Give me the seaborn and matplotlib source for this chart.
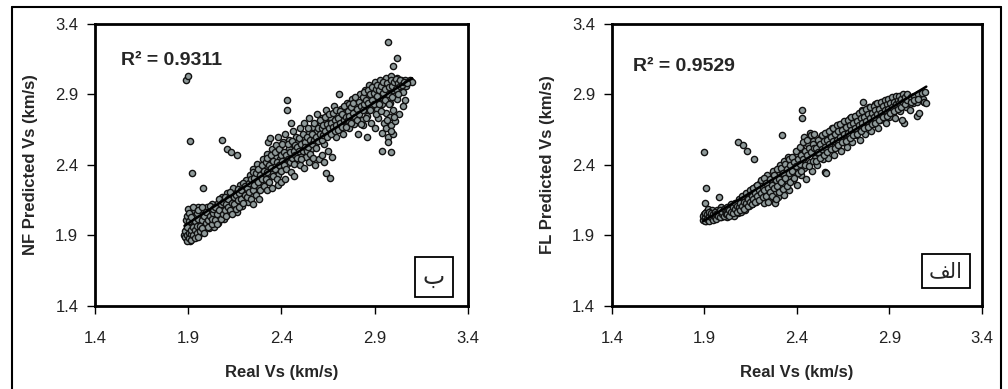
import numpy as np
import pandas as pd
import seaborn as sns
import matplotlib.pyplot as plt
from matplotlib.lines import Line2D

# NF model (panel "ب"): real vs predicted shear-wave velocity
nf_real = [
    1.89, 1.89, 1.90, 1.90, 1.91, 1.91, 1.90, 1.92, 1.91, 1.90, 1.92, 1.93, 1.93, 1.94, 1.93, 1.95, 1.94, 1.95, 1.96, 1.96,
    1.88, 1.89, 1.90, 1.91, 1.92, 1.89, 1.90,
    1.97, 1.98, 1.98, 1.99, 2.00, 2.00, 2.01, 2.02, 2.03, 2.03, 2.04, 2.05, 2.05, 2.06, 2.06,
    2.07, 2.08, 2.08, 2.09, 2.10, 2.10, 2.11, 2.12, 2.12, 2.13, 2.14, 2.14, 2.15, 2.16, 2.16, 2.17, 2.18, 2.18, 2.19, 2.20, 2.20,
    2.21, 2.22, 2.22, 2.23, 2.24, 2.24, 2.25, 2.26, 2.26, 2.27, 2.28, 2.28, 2.29, 2.30, 2.30, 2.31, 2.32, 2.32, 2.33, 2.33, 2.34, 2.34, 2.35, 2.35,
    2.36, 2.37, 2.37, 2.38, 2.38, 2.39, 2.40, 2.40, 2.41, 2.42, 2.42, 2.43, 2.44, 2.44, 2.45, 2.46, 2.46, 2.47, 2.48, 2.48, 2.49, 2.50, 2.50,
    2.51, 2.52, 2.52, 2.53, 2.54, 2.55, 2.55, 2.56, 2.57, 2.57, 2.58, 2.59, 2.59, 2.60, 2.61, 2.61, 2.62, 2.63, 2.63, 2.64, 2.65, 2.65,
    2.66, 2.67, 2.68, 2.68, 2.69, 2.70, 2.70, 2.71, 2.72, 2.72, 2.73, 2.74, 2.75, 2.75, 2.76, 2.77, 2.77, 2.78, 2.79, 2.80, 2.80,
    2.81, 2.82, 2.82, 2.83, 2.84, 2.84, 2.85, 2.85, 2.86, 2.86, 2.87, 2.87, 2.88, 2.88, 2.89, 2.90, 2.90, 2.90,
    2.91, 2.92, 2.92, 2.93, 2.93, 2.94, 2.94, 2.95, 2.95, 2.96, 2.96, 2.96, 2.97, 2.97, 2.98, 2.98, 2.98, 2.99, 2.99, 3.00, 3.00, 3.00,
    3.01, 3.01, 3.02, 3.02, 3.03, 3.03, 3.04, 3.05, 3.05,
    3.06, 3.07, 3.08, 3.09, 3.10,
    1.89, 1.90, 1.91, 1.92, 1.98, 2.08, 2.11, 2.13, 2.16, 2.43, 2.43, 2.45, 2.64, 2.66, 2.71,
    2.97, 3.02, 3.00, 2.94, 2.99, 2.97, 3.06, 3.05,
]
nf_pred = [
    1.88, 1.91, 1.93, 1.87, 1.90, 1.95, 1.98, 2.02, 2.07, 2.09, 1.89, 1.92, 1.97, 2.04, 2.08, 2.10, 1.90, 1.94, 1.99, 1.91,
    1.90, 1.94, 1.89, 1.86, 1.92, 2.01, 1.96,
    2.05, 1.93, 2.09, 1.97, 2.02, 2.10, 1.95, 2.06, 2.00, 2.12, 1.96, 2.08, 2.03, 2.13, 1.99,
    2.05, 2.11, 2.17, 2.02, 2.09, 2.14, 2.20, 2.06, 2.12, 2.18, 2.10, 2.24, 2.15, 2.21, 2.07, 2.13, 2.26, 2.19, 2.11, 2.23, 2.16,
    2.29, 2.20, 2.14, 2.33, 2.25, 2.18, 2.37, 2.28, 2.22, 2.41, 2.31, 2.24, 2.36, 2.44, 2.27, 2.33, 2.48, 2.39, 2.56, 2.30, 2.43, 2.59, 2.35, 2.51,
    2.40, 2.46, 2.54, 2.33, 2.60, 2.44, 2.50, 2.38, 2.56, 2.45, 2.62, 2.41, 2.52, 2.58, 2.47, 2.55, 2.64, 2.43, 2.50, 2.60, 2.56, 2.48, 2.66,
    2.53, 2.59, 2.70, 2.46, 2.56, 2.63, 2.73, 2.51, 2.60, 2.67, 2.55, 2.64, 2.76, 2.58, 2.69, 2.62, 2.73, 2.55, 2.66, 2.79, 2.61, 2.70,
    2.74, 2.64, 2.82, 2.69, 2.60, 2.76, 2.70, 2.66, 2.80, 2.73, 2.62, 2.77, 2.70, 2.84, 2.66, 2.79, 2.73, 2.87, 2.69, 2.82, 2.76,
    2.62, 2.78, 2.90, 2.72, 2.85, 2.68, 2.93, 2.80, 2.75, 2.60, 2.88, 2.97, 2.82, 2.70, 2.92, 2.86, 2.99, 2.66,
    2.80, 2.94, 2.73, 3.00, 2.88, 2.63, 2.83, 2.96, 2.70, 3.02, 2.77, 2.66, 2.90, 2.60, 2.99, 2.74, 2.84, 2.68, 3.03, 2.93, 2.79, 2.62,
    2.97, 2.71, 3.02, 2.87, 2.95, 2.76, 3.00, 2.92, 2.98,
    3.00, 2.96, 2.99, 3.00, 2.99,
    3.00, 3.03, 2.57, 2.34, 2.24, 2.58, 2.51, 2.49, 2.47, 2.86, 2.79, 2.70, 2.34, 2.31, 2.90,
    3.27, 3.16, 3.10, 2.50, 2.49, 2.56, 2.86, 2.82,
]
# extra points filling the dense core of the NF cloud
nf_core = [
    (1.885, 1.89), (1.885, 1.93), (1.895, 1.86), (1.895, 1.90), (1.895, 1.96), (1.895, 2.04),
    (1.905, 1.88), (1.905, 1.92), (1.905, 2.00), (1.905, 2.06), (1.915, 1.87), (1.915, 1.91),
    (1.915, 1.94), (1.915, 2.03), (1.925, 1.90), (1.925, 1.96), (1.925, 2.10), (1.935, 1.88),
    (1.935, 1.94), (1.935, 2.00), (1.945, 1.92), (1.945, 1.97), (1.945, 2.06), (1.955, 1.89),
    (1.955, 2.02), (1.955, 2.08), (1.965, 1.93), (1.965, 1.97), (1.975, 1.95), (1.975, 2.01),
    (1.975, 2.10), (1.985, 1.92), (1.985, 2.04), (1.995, 1.99), (1.995, 2.07), (2.005, 1.96),
    (2.005, 2.01), (2.015, 2.04), (2.015, 2.11), (2.025, 1.98), (2.025, 2.02), (2.035, 2.06),
    (2.035, 2.09), (2.045, 2.01), (2.045, 2.10), (2.055, 1.98), (2.055, 2.05), (2.065, 2.08),
    (2.065, 2.16), (2.075, 2.02), (2.075, 2.12), (2.085, 2.05), (2.085, 2.14), (2.095, 2.08),
    (2.095, 2.17), (2.105, 2.04), (2.105, 2.12), (2.115, 2.10), (2.115, 2.16), (2.125, 2.08),
    (2.125, 2.21), (2.135, 2.13), (2.135, 2.05), (2.145, 2.17), (2.145, 2.12), (2.155, 2.09),
    (2.155, 2.19), (2.165, 2.15), (2.165, 2.23), (2.175, 2.10), (2.175, 2.20), (2.185, 2.16),
    (2.185, 2.22), (2.195, 2.13), (2.195, 2.27), (2.205, 2.19), (2.205, 2.25), (2.215, 2.24),
    (2.215, 2.17), (2.225, 2.27), (2.225, 2.21), (2.235, 2.30), (2.235, 2.16), (2.245, 2.22),
    (2.245, 2.35), (2.255, 2.26), (2.255, 2.31), (2.265, 2.19), (2.265, 2.34), (2.275, 2.28),
    (2.275, 2.37), (2.285, 2.33), (2.285, 2.22), (2.295, 2.30), (2.295, 2.40), (2.305, 2.25),
    (2.305, 2.36), (2.315, 2.30), (2.315, 2.42), (2.325, 2.35), (2.325, 2.45), (2.335, 2.28),
    (2.335, 2.40), (2.345, 2.38), (2.345, 2.47), (2.355, 2.32), (2.355, 2.43), (2.365, 2.37),
    (2.365, 2.49), (2.375, 2.42), (2.375, 2.30), (2.385, 2.40), (2.385, 2.51), (2.395, 2.36),
    (2.395, 2.47), (2.405, 2.43), (2.405, 2.55), (2.415, 2.40), (2.415, 2.49), (2.425, 2.47),
    (2.425, 2.37), (2.435, 2.44), (2.435, 2.55), (2.445, 2.49), (2.445, 2.42), (2.455, 2.45),
    (2.455, 2.57), (2.465, 2.50), (2.465, 2.41), (2.475, 2.47), (2.475, 2.54), (2.485, 2.53),
    (2.485, 2.45), (2.495, 2.50), (2.495, 2.59), (2.505, 2.55), (2.505, 2.44), (2.515, 2.50),
    (2.515, 2.62), (2.525, 2.56), (2.525, 2.53), (2.535, 2.60), (2.535, 2.50), (2.545, 2.53),
    (2.545, 2.66), (2.555, 2.58), (2.555, 2.48), (2.565, 2.62), (2.565, 2.55), (2.575, 2.58),
    (2.575, 2.70), (2.585, 2.60), (2.585, 2.52), (2.595, 2.66), (2.595, 2.57), (2.605, 2.62),
    (2.605, 2.72), (2.615, 2.58), (2.615, 2.66), (2.625, 2.68), (2.625, 2.61), (2.635, 2.64),
    (2.635, 2.74), (2.645, 2.60), (2.645, 2.69), (2.655, 2.66), (2.655, 2.76), (2.665, 2.70),
    (2.665, 2.62), (2.675, 2.67), (2.675, 2.77), (2.685, 2.72), (2.685, 2.64), (2.695, 2.68),
    (2.695, 2.79), (2.705, 2.73), (2.705, 2.65), (2.715, 2.70), (2.715, 2.78), (2.725, 2.76),
    (2.725, 2.67), (2.735, 2.72), (2.735, 2.82), (2.745, 2.74), (2.745, 2.67), (2.755, 2.78),
    (2.755, 2.72), (2.765, 2.75), (2.765, 2.83), (2.775, 2.70), (2.775, 2.81), (2.785, 2.77),
    (2.785, 2.84), (2.795, 2.74), (2.795, 2.88), (2.805, 2.80), (2.805, 2.72), (2.815, 2.85),
    (2.815, 2.76), (2.825, 2.82), (2.825, 2.69), (2.835, 2.88), (2.835, 2.79), (2.845, 2.83),
    (2.845, 2.92), (2.855, 2.86), (2.855, 2.73), (2.865, 2.84), (2.865, 2.93), (2.875, 2.90),
    (2.875, 2.79), (2.885, 2.86), (2.885, 2.95), (2.895, 2.91), (2.895, 2.83), (2.905, 2.94),
    (2.905, 2.76), (2.915, 2.89), (2.915, 2.97), (2.925, 2.93), (2.925, 2.83), (2.935, 2.96),
    (2.935, 2.78), (2.945, 2.91), (2.945, 2.99), (2.955, 2.94), (2.955, 2.86), (2.965, 2.98),
    (2.965, 2.72), (2.975, 2.95), (2.975, 2.83), (2.985, 3.00), (2.985, 2.64), (2.995, 2.96),
    (2.995, 2.88), (3.005, 2.99), (3.005, 2.74), (3.015, 2.94), (3.015, 3.01), (3.025, 2.98),
    (3.025, 2.90), (3.035, 3.00), (3.035, 2.96), (3.045, 2.97), (3.055, 2.99), (3.075, 2.98),
]
# lower edge of the NF band, which is wider than the core
nf_spread = [
    (2.25, 2.12), (2.28, 2.16), (2.32, 2.22), (2.35, 2.24), (2.38, 2.26), (2.40, 2.28),
    (2.42, 2.30), (2.45, 2.35), (2.47, 2.32), (2.50, 2.40), (2.52, 2.38), (2.55, 2.42),
    (2.57, 2.45), (2.58, 2.40), (2.60, 2.44), (2.62, 2.47), (2.63, 2.42), (2.65, 2.50),
    (2.67, 2.46),
]

# FL model (panel "الف")
fl_real = [
    1.90, 1.90, 1.91, 1.91, 1.92, 1.92, 1.93, 1.93, 1.94, 1.94, 1.95, 1.95, 1.96, 1.97, 1.97, 1.98, 1.99, 1.99, 2.00, 2.00,
    2.01, 2.02, 2.02, 2.03, 2.04, 2.04, 2.05, 2.06, 2.06, 2.07, 2.08, 2.08, 2.09, 2.10, 2.10,
    2.11, 2.12, 2.12, 2.13, 2.14, 2.14, 2.15, 2.16, 2.16, 2.17, 2.18, 2.18, 2.19, 2.20, 2.20,
    2.21, 2.22, 2.22, 2.23, 2.24, 2.24, 2.25, 2.26, 2.26, 2.27, 2.28, 2.28, 2.29, 2.30, 2.30,
    2.31, 2.31, 2.32, 2.33, 2.33, 2.34, 2.35, 2.35, 2.36, 2.36, 2.37, 2.38, 2.38, 2.39, 2.40, 2.40,
    2.41, 2.42, 2.42, 2.43, 2.44, 2.44, 2.45, 2.45, 2.46, 2.47, 2.47, 2.48, 2.48, 2.49, 2.50, 2.50,
    1.90, 1.91, 1.905, 1.98, 2.08, 2.11, 2.13, 2.17, 2.32, 2.43, 2.43, 2.55, 2.56, 2.76,
    3.05, 3.06, 2.98, 3.09,
]
fl_pred = [
    2.02, 2.05, 2.00, 2.07, 2.03, 2.09, 2.01, 2.05, 2.04, 2.08, 2.02, 2.06, 2.04, 2.08, 2.03, 2.05, 2.10, 2.03, 2.07, 2.04,
    2.06, 2.09, 2.03, 2.07, 2.11, 2.05, 2.08, 2.04, 2.12, 2.09, 2.06, 2.14, 2.10, 2.07, 2.15,
    2.12, 2.18, 2.08, 2.14, 2.20, 2.11, 2.16, 2.23, 2.12, 2.18, 2.14, 2.25, 2.20, 2.16, 2.27,
    2.22, 2.30, 2.13, 2.19, 2.26, 2.33, 2.16, 2.23, 2.29, 2.36, 2.20, 2.13, 2.27, 2.33, 2.17,
    2.40, 2.24, 2.30, 2.43, 2.19, 2.36, 2.27, 2.46, 2.32, 2.22, 2.39, 2.44, 2.29, 2.35, 2.48, 2.26,
    2.41, 2.33, 2.52, 2.45, 2.38, 2.60, 2.48, 2.30, 2.55, 2.42, 2.63, 2.50, 2.36, 2.57, 2.45, 2.53,
    2.49, 2.24, 2.13, 2.17, 2.56, 2.54, 2.50, 2.44, 2.61, 2.79, 2.73, 2.35, 2.34, 2.85,
    2.75, 2.77, 2.70, 2.85,
]
# upper half of the FL cloud (real > 2.5)
fl_upper = [
    (2.51, 2.55), (2.51, 2.40), (2.52, 2.48), (2.53, 2.60), (2.53, 2.50), (2.54, 2.44),
    (2.55, 2.58), (2.55, 2.49), (2.56, 2.63), (2.57, 2.45), (2.57, 2.54), (2.58, 2.59),
    (2.59, 2.51), (2.59, 2.66), (2.60, 2.47), (2.60, 2.57), (2.61, 2.62), (2.62, 2.53),
    (2.62, 2.68), (2.63, 2.58), (2.64, 2.50), (2.64, 2.64), (2.65, 2.56), (2.66, 2.70),
    (2.66, 2.61), (2.67, 2.53), (2.68, 2.66), (2.68, 2.59), (2.69, 2.73), (2.70, 2.63),
    (2.70, 2.56), (2.71, 2.68), (2.72, 2.75), (2.72, 2.61), (2.73, 2.66), (2.74, 2.58),
    (2.74, 2.72), (2.75, 2.79), (2.76, 2.65), (2.76, 2.70), (2.77, 2.62), (2.78, 2.74),
    (2.78, 2.68), (2.79, 2.81), (2.80, 2.71), (2.80, 2.64), (2.81, 2.76), (2.82, 2.69),
    (2.82, 2.83), (2.83, 2.73), (2.84, 2.66), (2.85, 2.79), (2.85, 2.72), (2.86, 2.85),
    (2.87, 2.76), (2.88, 2.70), (2.88, 2.81), (2.89, 2.78), (2.90, 2.74), (2.90, 2.86),
    (2.91, 2.81), (2.92, 2.77), (2.93, 2.84), (2.93, 2.73), (2.94, 2.80), (2.95, 2.87),
    (2.96, 2.78), (2.96, 2.83), (2.97, 2.72), (2.98, 2.86), (2.99, 2.81), (3.00, 2.88),
    (3.00, 2.84), (3.01, 2.79), (3.02, 2.87), (3.03, 2.84), (3.04, 2.89), (3.05, 2.85),
    (3.06, 2.88), (3.07, 2.90), (3.08, 2.87), (3.09, 2.85), (3.10, 2.84),
]
# extra points filling the dense core of the FL cloud
fl_core = [
    (1.895, 2.01), (1.895, 2.04), (1.905, 2.03), (1.905, 2.06), (1.905, 2.00), (1.915, 2.02),
    (1.915, 2.05), (1.925, 2.00), (1.925, 2.04), (1.925, 2.07), (1.935, 2.03), (1.935, 2.06),
    (1.945, 2.01), (1.945, 2.05), (1.955, 2.03), (1.955, 2.07), (1.965, 2.05), (1.965, 2.02),
    (1.975, 2.06), (1.975, 2.04), (1.985, 2.03), (1.985, 2.08), (1.995, 2.05), (1.995, 2.07),
    (2.005, 2.04), (2.005, 2.09), (2.015, 2.07), (2.015, 2.05), (2.025, 2.05), (2.025, 2.10),
    (2.035, 2.08), (2.035, 2.04), (2.045, 2.07), (2.045, 2.12), (2.055, 2.06), (2.055, 2.10),
    (2.065, 2.09), (2.065, 2.13), (2.075, 2.07), (2.075, 2.11), (2.085, 2.10), (2.085, 2.16),
    (2.095, 2.08), (2.095, 2.13), (2.105, 2.11), (2.105, 2.18), (2.115, 2.09), (2.115, 2.14),
    (2.125, 2.13), (2.125, 2.20), (2.135, 2.11), (2.135, 2.16), (2.145, 2.14), (2.145, 2.22),
    (2.155, 2.12), (2.155, 2.18), (2.165, 2.16), (2.165, 2.24), (2.175, 2.14), (2.175, 2.20),
    (2.185, 2.18), (2.185, 2.26), (2.195, 2.15), (2.195, 2.22), (2.205, 2.20), (2.205, 2.29),
    (2.215, 2.17), (2.215, 2.24), (2.225, 2.22), (2.225, 2.31), (2.235, 2.18), (2.235, 2.27),
    (2.245, 2.24), (2.245, 2.14), (2.255, 2.21), (2.255, 2.30), (2.265, 2.26), (2.265, 2.18),
    (2.275, 2.24), (2.275, 2.33), (2.285, 2.29), (2.285, 2.16), (2.295, 2.25), (2.295, 2.37),
    (2.305, 2.30), (2.305, 2.21), (2.315, 2.28), (2.315, 2.38), (2.325, 2.34), (2.325, 2.23),
    (2.335, 2.31), (2.335, 2.41), (2.345, 2.37), (2.345, 2.25), (2.355, 2.34), (2.355, 2.44),
    (2.365, 2.40), (2.365, 2.28), (2.375, 2.36), (2.375, 2.46), (2.385, 2.42), (2.385, 2.31),
    (2.395, 2.39), (2.395, 2.50), (2.405, 2.44), (2.405, 2.34), (2.415, 2.41), (2.415, 2.53),
    (2.425, 2.47), (2.425, 2.36), (2.435, 2.44), (2.435, 2.56), (2.445, 2.50), (2.445, 2.40),
    (2.455, 2.47), (2.455, 2.58), (2.465, 2.52), (2.465, 2.39), (2.475, 2.49), (2.475, 2.61),
    (2.485, 2.55), (2.485, 2.43), (2.495, 2.52), (2.495, 2.62),
    (2.505, 2.52), (2.505, 2.43), (2.515, 2.49), (2.515, 2.58), (2.525, 2.55), (2.525, 2.45),
    (2.535, 2.51), (2.535, 2.61), (2.545, 2.57), (2.545, 2.47), (2.555, 2.53), (2.555, 2.63),
    (2.565, 2.58), (2.565, 2.49), (2.575, 2.55), (2.575, 2.64), (2.585, 2.60), (2.585, 2.51),
    (2.595, 2.57), (2.595, 2.66), (2.605, 2.62), (2.605, 2.52), (2.615, 2.58), (2.615, 2.68),
    (2.625, 2.64), (2.625, 2.54), (2.635, 2.60), (2.635, 2.69), (2.645, 2.65), (2.645, 2.56),
    (2.655, 2.62), (2.655, 2.71), (2.665, 2.67), (2.665, 2.57), (2.675, 2.63), (2.675, 2.72),
    (2.685, 2.68), (2.685, 2.59), (2.695, 2.65), (2.695, 2.74), (2.705, 2.70), (2.705, 2.61),
    (2.715, 2.66), (2.715, 2.75), (2.725, 2.71), (2.725, 2.62), (2.735, 2.68), (2.735, 2.77),
    (2.745, 2.73), (2.745, 2.64), (2.755, 2.70), (2.755, 2.78), (2.765, 2.74), (2.765, 2.66),
    (2.775, 2.71), (2.775, 2.80), (2.785, 2.76), (2.785, 2.67), (2.795, 2.73), (2.795, 2.81),
    (2.805, 2.77), (2.805, 2.69), (2.815, 2.74), (2.815, 2.82), (2.825, 2.79), (2.825, 2.70),
    (2.835, 2.76), (2.835, 2.84), (2.845, 2.80), (2.845, 2.72), (2.855, 2.77), (2.855, 2.85),
    (2.865, 2.82), (2.865, 2.74), (2.875, 2.79), (2.875, 2.86), (2.885, 2.83), (2.885, 2.75),
    (2.895, 2.80), (2.895, 2.87), (2.905, 2.84), (2.905, 2.77), (2.915, 2.81), (2.915, 2.88),
    (2.925, 2.85), (2.925, 2.78), (2.935, 2.83), (2.935, 2.89), (2.945, 2.86), (2.945, 2.80),
    (2.955, 2.84), (2.955, 2.89), (2.965, 2.87), (2.965, 2.81), (2.975, 2.85), (2.975, 2.90),
    (2.985, 2.88), (2.985, 2.83), (2.995, 2.86), (2.995, 2.90), (3.015, 2.88), (3.015, 2.85),
    (3.035, 2.89), (3.035, 2.86), (3.055, 2.90), (3.055, 2.87), (3.075, 2.91), (3.095, 2.92),
]

r2_labels = ["R² = 0.9311", "R² = 0.9529"]
y_titles = ["NF Predicted Vs (km/s)", "FL Predicted Vs (km/s)"]
panel_tags = ["\u0628", "\uFED2\uFEDF\uFE8D"]  # ب , الف (pre-shaped, visual order)
ticks = [1.4, 1.9, 2.4, 2.9, 3.4]


def build(real, pred, *extras):
    parts = [pd.DataFrame({"real": real, "pred": pred})]
    parts += [pd.DataFrame(e, columns=["real", "pred"]) for e in extras]
    return pd.concat(parts, ignore_index=True)


sns.set_style("ticks")
plt.rcParams["font.family"] = ["Liberation Sans", "DejaVu Sans"]

fig = plt.figure(figsize=(10.08, 3.89), dpi=100)
ax1 = fig.add_axes([0.0942, 0.2134, 0.370, 0.725])
ax2 = fig.add_axes([0.607, 0.2134, 0.367, 0.725])

panels = [
    (ax1, build(nf_real, nf_pred, nf_core, nf_spread), (0.07, 0.872), (0.909, 0.103), 17),
    (ax2, build(fl_real, fl_pred, fl_upper, fl_core), (0.057, 0.848), (0.903, 0.124), 15),
]

for i, (ax, df, r2_pos, tag_pos, tag_size) in enumerate(panels):
    sns.scatterplot(data=df, x="real", y="pred", ax=ax, s=20, color="#8f9a9a",
                    edgecolor="#111111", linewidth=1.0, zorder=2)
    sns.regplot(data=df, x="real", y="pred", ax=ax, scatter=False, ci=None,
                truncate=True, color="black", line_kws={"lw": 1.8, "zorder": 3})
    ax.set_xlim(1.4, 3.4)
    ax.set_ylim(1.4, 3.4)
    ax.set_xticks(ticks)
    ax.set_yticks(ticks)
    ax.set_xticklabels([f"{t:.1f}" for t in ticks])
    ax.set_yticklabels([f"{t:.1f}" for t in ticks])
    ax.tick_params(axis="both", direction="out", length=6, width=1, labelsize=12,
                   colors="black", labelcolor="#222222")
    ax.tick_params(axis="x", pad=12)
    ax.tick_params(axis="y", pad=6)
    for sp in ax.spines.values():
        sp.set_visible(True)
        sp.set_linewidth(2)
        sp.set_color("black")
    ax.set_xlabel("Real Vs (km/s)", fontsize=12, fontweight="bold", labelpad=14)
    ax.set_ylabel(y_titles[i], fontsize=12, fontweight="bold", labelpad=12)
    ax.text(r2_pos[0], r2_pos[1], r2_labels[i], transform=ax.transAxes, fontsize=14,
            fontweight="bold", va="center", ha="left")
    ax.text(tag_pos[0], tag_pos[1], panel_tags[i], transform=ax.transAxes,
            fontsize=tag_size, family="DejaVu Sans", ha="center", va="center",
            bbox=dict(boxstyle="square,pad=0.35", fc="white", ec="black", lw=1.3))

# outer frame (bottom edge is cut off in the original)
for xs, ys in [((0.012, 0.012), (0.0, 0.982)), ((0.012, 0.993), (0.982, 0.982)),
               ((0.993, 0.993), (0.982, 0.0))]:
    fig.add_artist(Line2D(xs, ys, transform=fig.transFigure, color="black", lw=1.5))

fig.savefig("out.png", dpi=100)
